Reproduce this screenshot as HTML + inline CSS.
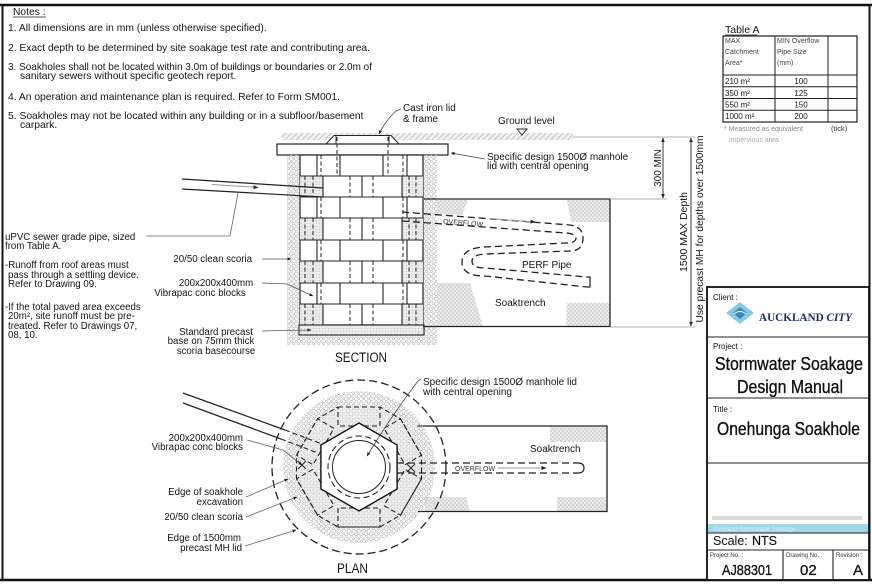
<!DOCTYPE html>
<html><head><meta charset="utf-8">
<style>
html,body{margin:0;padding:0;background:#fff;}
svg{display:block;}
</style></head><body>
<svg width="872" height="587" viewBox="0 0 872 587" xmlns="http://www.w3.org/2000/svg">
<defs>
 <pattern id="sc" width="5" height="5" patternUnits="userSpaceOnUse">
   <circle cx="1.25" cy="1.25" r="1.1" fill="none" stroke="#b3b3b3" stroke-width="0.6"/>
   <circle cx="3.75" cy="3.75" r="1.1" fill="none" stroke="#b3b3b3" stroke-width="0.6"/>
 </pattern>
 <pattern id="gd" width="3" height="3" patternUnits="userSpaceOnUse">
   <rect width="3" height="3" fill="#ececec"/>
   <circle cx="1.5" cy="1.5" r="0.6" fill="#c6c6c6"/>
 </pattern>
 <pattern id="gv" width="4" height="4" patternUnits="userSpaceOnUse">
   <rect width="4" height="4" fill="#ebebeb"/>
   <circle cx="1" cy="1" r="0.9" fill="none" stroke="#c6c6c6" stroke-width="0.5"/>
   <circle cx="3" cy="3" r="0.9" fill="none" stroke="#c6c6c6" stroke-width="0.5"/>
 </pattern>
 <pattern id="ht" width="4" height="4" patternUnits="userSpaceOnUse" patternTransform="rotate(45)">
   <rect width="4" height="4" fill="#f0f0f0"/>
   <line x1="0" y1="0" x2="0" y2="4" stroke="#aaa" stroke-width="1.2"/>
 </pattern>
 <marker id="ah" viewBox="0 0 10 10" refX="9" refY="5" markerWidth="5" markerHeight="5" orient="auto-start-reverse">
   <path d="M0,1 L10,5 L0,9z" fill="#222"/>
 </marker>
</defs>

<g font-family="Liberation Sans, Arial, sans-serif">
<rect x="0" y="0" width="872" height="587" fill="#fff"/>

<!-- frame -->
<line x1="0" y1="5" x2="872" y2="5" stroke="#111" stroke-width="2.5"/>
<line x1="2.5" y1="4" x2="2.5" y2="581" stroke="#111" stroke-width="2"/>
<line x1="0" y1="580" x2="872" y2="580" stroke="#111" stroke-width="2.5"/>
<line x1="869.5" y1="4" x2="869.5" y2="581" stroke="#111" stroke-width="2"/>

<!-- Notes -->
<g font-size="10.3" fill="#151515">
<text x="13" y="15">Notes :</text>
<text x="8" y="31">1. All dimensions are in mm (unless otherwise specified).</text>
<text x="8" y="51" textLength="362" lengthAdjust="spacingAndGlyphs">2. Exact depth to be determined by site soakage test rate and contributing area.</text>
<text x="8" y="70" textLength="364" lengthAdjust="spacingAndGlyphs">3. Soakholes shall not be located within 3.0m of buildings or boundaries or 2.0m of</text>
<text x="20" y="79">sanitary sewers without specific geotech report.</text>
<text x="8" y="100">4. An operation and maintenance plan is required. Refer to Form SM001.</text>
<text x="8" y="119">5. Soakholes may not be located within any building or in a subfloor/basement</text>
<text x="20" y="128">carpark.</text>
</g>
<line x1="13" y1="17" x2="46" y2="17" stroke="#222" stroke-width="0.8"/>

<!-- Table A -->
<text x="725" y="33" font-size="10.5" fill="#151515">Table A</text>
<line x1="725" y1="35" x2="757" y2="35" stroke="#222" stroke-width="0.8"/>
<rect x="723" y="36" width="134" height="86" fill="none" stroke="#222" stroke-width="1.2"/>
<path d="M775,36V122M828,36V122M723,75H857M723,86.75H857M723,98.5H857M723,110.25H857" stroke="#222" stroke-width="1" fill="none"/>
<g font-size="7" fill="#444">
<text x="725" y="43">MAX</text><text x="725" y="54">Catchment</text><text x="725" y="65">Area*</text>
<text x="777" y="43">MIN Overflow</text><text x="777" y="54">Pipe Size</text><text x="777" y="65">(mm)</text>
</g>
<g font-size="8" fill="#151515">
<text x="725" y="84">210 m²</text><text x="725" y="96">350 m²</text><text x="725" y="107.5">550 m²</text><text x="725" y="119">1000 m²</text>
<text x="801" y="84" text-anchor="middle">100</text><text x="801" y="96" text-anchor="middle">125</text><text x="801" y="107.5" text-anchor="middle">150</text><text x="801" y="119" text-anchor="middle">200</text>
</g>
<text x="724" y="131" font-size="7" fill="#888">* Measured as equivalent</text>
<text x="831" y="131" font-size="7.5" fill="#333">(tick)</text>
<text x="729" y="142" font-size="7" fill="#aaa">impervious area</text>

<!-- SECTION: ground -->
<rect x="282" y="133" width="291" height="7" fill="url(#ht)"/>
<line x1="573" y1="137" x2="695" y2="137" stroke="#999" stroke-width="0.8"/>
<text x="498" y="124" font-size="10" fill="#151515">Ground level</text>
<path d="M517,129 L527,129 L522,135z" fill="none" stroke="#222" stroke-width="0.9"/>

<!-- cast iron frame & lid -->
<path d="M326,144 L334,135.5 L391,135.5 L399,144z" fill="#fff" stroke="#222" stroke-width="1"/>
<path d="M336,136V144M389,136V144" stroke="#222" stroke-width="0.9"/>
<rect x="277" y="144" width="171" height="11" fill="#fff" stroke="#222" stroke-width="1.2"/>

<!-- scoria & wall -->
<rect x="287" y="155" width="150" height="190" fill="url(#sc)"/>
<rect x="300" y="155" width="123" height="170" fill="#fff" stroke="#222" stroke-width="1.2"/>
<g fill="url(#gd)">
<rect x="300" y="176" width="23" height="21"/><rect x="402" y="176" width="21" height="21"/>
<rect x="300" y="218" width="23" height="22"/><rect x="402" y="218" width="21" height="22"/>
<rect x="300" y="261" width="23" height="22"/><rect x="402" y="261" width="21" height="22"/>
<rect x="300" y="304" width="23" height="21"/><rect x="402" y="304" width="21" height="21"/>
</g>
<path d="M300,176H423M300,197H423M300,218H423M300,240H423M300,261H423M300,283H423M300,304H423
M317,155V176M340,155V176M383,155V176M407,155V176
M317,197V218M340,197V218M383,197V218M407,197V218
M317,240V261M340,240V261M383,240V261M407,240V261
M317,283V304M340,283V304M383,283V304M407,283V304
M323,176V197M362,176V197M402,176V197
M323,218V240M362,218V240M402,218V240
M323,261V283M362,261V283M402,261V283
M323,304V325M362,304V325M402,304V325" stroke="#222" stroke-width="1.1" fill="none"/>
<path d="M321,155V176M403,155V176M321,197V218M403,197V218M321,240V261M403,240V261M321,283V304M403,283V304
M305,176V197M313,176V197M350,176V197M373,176V197M409,176V197M416,176V197
M305,218V240M313,218V240M350,218V240M373,218V240M409,218V240M416,218V240
M305,261V283M313,261V283M350,261V283M373,261V283M409,261V283M416,261V283
M305,304V325M313,304V325M350,304V325M373,304V325M409,304V325M416,304V325
M337,137V176M388,137V176" stroke="#222" stroke-width="1" stroke-dasharray="4,2.5" fill="none"/>
<rect x="299" y="325" width="125" height="10" fill="url(#gd)" stroke="#222" stroke-width="1.1"/>

<!-- section soaktrench -->
<g fill="url(#gv)">
<path d="M437,200 L468,200 L462,215 L437,214z"/>
<path d="M437,283 L470,283 L483,326 L437,326z"/>
<path d="M567,200 L610,200 L610,222 L571,222z"/>
<path d="M567,303 L610,303 L610,326 L566,326z"/>
</g>
<path d="M424,199 L610,199 L610,326.5 L423,326.5" fill="none" stroke="#222" stroke-width="1.3"/>
<line x1="610" y1="199" x2="667" y2="199" stroke="#999" stroke-width="0.8"/>
<line x1="610" y1="327" x2="695" y2="327" stroke="#999" stroke-width="0.8"/>

<!-- inlet pipe section -->
<path d="M182,179 L323,188 M182,189 L323,197" stroke="#222" stroke-width="1.2" fill="none"/>
<line x1="212" y1="184.5" x2="258" y2="187.5" stroke="#999" stroke-width="1" marker-end="url(#ah)"/>

<!-- perf pipe -->
<g fill="none" stroke="#222" stroke-width="1.3" stroke-dasharray="7,4">
<path d="M402,212 L570,225 Q583,227 583,238 Q583,251 570,251 L485,254 Q472,255 472,261 Q472,268 485,268 L587,277"/>
<path d="M402,221 L566,233 Q576,234 576,238 Q576,243 566,243 L485,247 Q462,248 462,262 Q462,276 485,276 L587,287"/>
</g>
<path d="M587,277 L590,277 L590,287 L587,287" fill="none" stroke="#222" stroke-width="1.2"/>
<text x="443" y="223.5" font-size="7" transform="rotate(4.5 443 223.5)" fill="#333">OVERFLOW</text>
<line x1="490" y1="218.5" x2="535" y2="222" stroke="#999" stroke-width="1" marker-end="url(#ah)"/>
<text x="522" y="268" font-size="10" fill="#151515">PERF Pipe</text>
<text x="495" y="306" font-size="10" fill="#151515">Soaktrench</text>

<!-- section labels -->
<g fill="#151515">
<text x="403" y="111" font-size="10">Cast iron lid</text>
<text x="403" y="122" font-size="10">&amp; frame</text>
<text x="487" y="160" font-size="10">Specific design 1500Ø manhole</text>
<text x="487" y="169" font-size="10">lid with central opening</text>
</g>
<path d="M401,109 L396,111 Q386,120 379,134" fill="none" stroke="#444" stroke-width="0.8" marker-end="url(#ah)"/>
<path d="M485,159 L451,153" fill="none" stroke="#444" stroke-width="0.8" marker-end="url(#ah)"/>

<g font-size="9.7" fill="#151515">
<text x="5" y="240">uPVC sewer grade pipe, sized</text>
<text x="5" y="249">from Table A.</text>
<text x="5" y="268">-Runoff from roof areas must</text>
<text x="8" y="278">pass through a settling device.</text>
<text x="8" y="287">Refer to Drawing 09.</text>
<text x="5" y="310">-If the total paved area exceeds</text>
<text x="8" y="319">20m², site runoff must be pre-</text>
<text x="8" y="329">treated. Refer to Drawings 07,</text>
<text x="8" y="338">08, 10.</text>
<text x="252" y="262" text-anchor="end">20/50 clean scoria</text>
<text x="216" y="286" text-anchor="middle">200x200x400mm</text>
<text x="200" y="296" text-anchor="middle">Vibrapac conc blocks</text>
<text x="216" y="335" text-anchor="middle">Standard precast</text>
<text x="211" y="344" text-anchor="middle">base on 75mm thick</text>
<text x="216" y="354" text-anchor="middle">scoria basecourse</text>
</g>
<path d="M146,236 L230,236 L238,193" fill="none" stroke="#666" stroke-width="0.8"/>
<path d="M262,259 L291,259" fill="none" stroke="#555" stroke-width="0.8" marker-end="url(#ah)"/>
<path d="M262,283 L287,284 L313,296" fill="none" stroke="#555" stroke-width="0.8" marker-end="url(#ah)"/>
<path d="M262,331 L311,330" fill="none" stroke="#555" stroke-width="0.8" marker-end="url(#ah)"/>
<text x="335" y="362" font-size="13.5" fill="#151515" textLength="52" lengthAdjust="spacingAndGlyphs">SECTION</text>

<!-- dimensions -->
<line x1="663" y1="138" x2="663" y2="198" stroke="#222" stroke-width="0.9" marker-start="url(#ah)" marker-end="url(#ah)"/>
<line x1="691" y1="138" x2="691" y2="326" stroke="#222" stroke-width="0.9" marker-start="url(#ah)" marker-end="url(#ah)"/>
<g fill="#151515">
<text transform="translate(661,168) rotate(-90)" text-anchor="middle" font-size="10">300 MIN</text>
<text transform="translate(687,232) rotate(-90)" text-anchor="middle" font-size="10.5">1500 MAX Depth</text>
<text transform="translate(703,229) rotate(-90)" text-anchor="middle" font-size="10" textLength="187" lengthAdjust="spacingAndGlyphs">Use precast MH for depths over 1500mm</text>
</g>

<!-- PLAN -->
<g fill="url(#gv)">
<rect x="550" y="427" width="56" height="15"/>
<path d="M425,497 L466,497 L470,511 L425,511z"/>
<rect x="557" y="497" width="49" height="14"/>
</g>
<path d="M417,426 L607,426 L607,511.5 L418,511.5" fill="none" stroke="#222" stroke-width="1.3"/>

<circle cx="359" cy="467" r="76" fill="url(#sc)"/>
<circle cx="359" cy="467" r="62" fill="url(#gd)" opacity="0.6"/>
<g transform="translate(359,467)" fill="none" stroke="#222" stroke-width="1.1" stroke-dasharray="5,3">
<rect x="-21" y="-60" width="42" height="19"/>
<rect x="-21" y="-60" width="42" height="19" transform="rotate(60)"/>
<rect x="-21" y="-60" width="42" height="19" transform="rotate(120)"/>
<rect x="-21" y="-60" width="42" height="19" transform="rotate(180)"/>
<rect x="-21" y="-60" width="42" height="19" transform="rotate(240)"/>
<rect x="-21" y="-60" width="42" height="19" transform="rotate(300)"/>
<polygon points="-21,-60 21,-60 41.5,-48.2 62.5,-11.8 62.5,11.8 41.5,48.2 21,60 -21,60 -41.5,48.2 -62.5,11.8 -62.5,-11.8 -41.5,-48.2"/>
</g>
<polygon points="359,423 397.1,445 397.1,489 359,511 320.9,489 320.9,445" fill="#fff" stroke="#111" stroke-width="1.4"/>
<circle cx="359" cy="467" r="31" fill="none" stroke="#222" stroke-width="1.1" stroke-dasharray="6,3.5"/>
<circle cx="359" cy="467" r="26.5" fill="none" stroke="#222" stroke-width="1"/>
<path d="M298,461 L306,469 M306,461 L298,469 M407,464 L415,472 M415,464 L407,472" stroke="#222" stroke-width="1"/>
<circle cx="359" cy="467" r="87" fill="none" stroke="#222" stroke-width="1.3" stroke-dasharray="8,4"/>

<!-- plan inlet pipe -->
<path d="M183,393 L285,430 M183,403 L281,439" stroke="#222" stroke-width="1.2" fill="none"/>
<path d="M285,430 L322,444 M281,439 L318,453" stroke="#222" stroke-width="1.1" stroke-dasharray="5,3" fill="none"/>

<!-- plan overflow -->
<path d="M397,463 L578,463 M397,473 L578,473" stroke="#222" stroke-width="1.3" stroke-dasharray="7,4" fill="none"/>
<path d="M578,463 Q584,463 584,468 Q584,473 578,473" fill="none" stroke="#222" stroke-width="1.2"/>
<text x="455" y="471" font-size="7" fill="#333">OVERFLOW</text>
<line x1="498" y1="468" x2="546" y2="468" stroke="#999" stroke-width="1" marker-end="url(#ah)"/>
<text x="530" y="452" font-size="10" fill="#151515">Soaktrench</text>

<g fill="#151515">
<text x="423" y="385" font-size="10">Specific design 1500Ø manhole lid</text>
<text x="423" y="395" font-size="10">with central opening</text>
</g>
<path d="M421,379 L418,381 Q392,415 367,456" fill="none" stroke="#444" stroke-width="0.8" marker-end="url(#ah)"/>

<g font-size="9.7" text-anchor="end" fill="#151515">
<text x="243" y="441">200x200x400mm</text>
<text x="243" y="450">Vibrapac conc blocks</text>
<text x="243" y="495">Edge of soakhole</text>
<text x="243" y="505">excavation</text>
<text x="243" y="520">20/50 clean scoria</text>
<text x="241" y="541">Edge of 1500mm</text>
<text x="242" y="551">precast MH lid</text>
</g>
<g fill="none" stroke="#666" stroke-width="0.8">
<path d="M247,440 L283,450 L302,465" marker-end="url(#ah)"/>
<path d="M246,497 L288,479" marker-end="url(#ah)"/>
<path d="M246,517 L297,497" marker-end="url(#ah)"/>
<path d="M245,546 L296,530" marker-end="url(#ah)"/>
</g>
<text x="337" y="573" font-size="13.5" fill="#151515" textLength="31" lengthAdjust="spacingAndGlyphs">PLAN</text>

<!-- Title block -->
<rect x="707" y="287" width="162" height="293" fill="#fff" stroke="#111" stroke-width="1.8"/>
<path d="M707,337H869M707,398H869M707,463H869M707,533H869M707,550H869M783,550V580M833,550V580" stroke="#222" stroke-width="1.1"/>
<text x="713" y="300" font-size="8" fill="#151515">Client :</text>
<polygon points="726,313 740,302 754,313 740,324" fill="#86cbe6"/>
<polygon points="733,313 740,307 747,313 740,319" fill="#3d86bd"/>
<path d="M734,314 Q740,309 746,314" stroke="#fff" stroke-width="1" fill="none"/>
<text x="759" y="321" style="font-family:'Liberation Serif',serif;font-weight:bold" font-size="11.5" fill="#1d2f6b" textLength="93" lengthAdjust="spacingAndGlyphs">AUCKLAND <tspan style="font-style:italic">CITY</tspan></text>
<g fill="#111">
<text x="713" y="349" font-size="8">Project :</text>
<text x="715" y="370" font-size="18.5" stroke="#111" stroke-width="0.35" textLength="148" lengthAdjust="spacingAndGlyphs">Stormwater Soakage</text>
<text x="737" y="393" font-size="18.5" stroke="#111" stroke-width="0.35" textLength="106" lengthAdjust="spacingAndGlyphs">Design Manual</text>
<text x="713" y="412" font-size="8">Title :</text>
<text x="717" y="435" font-size="18.5" stroke="#111" stroke-width="0.35" textLength="143" lengthAdjust="spacingAndGlyphs">Onehunga Soakhole</text>
</g>
<rect x="712" y="516" width="150" height="4" fill="#dcdcdc"/>
<rect x="708" y="524" width="160" height="8.5" fill="#9fd7ea"/>
<text x="713" y="531" font-size="6" fill="#d9f1f8">Auckland  Stormwater Soakage</text>
<g fill="#111">
<text x="713" y="545" font-size="12.5">Scale:</text>
<text x="752" y="545" font-size="12.5" stroke="#111" stroke-width="0.2">NTS</text>
<text x="710" y="557" font-size="6" fill="#333">Project No. :</text>
<text x="786" y="557" font-size="6" fill="#333">Drawing No. :</text>
<text x="836" y="557" font-size="6" fill="#333">Revision :</text>
<text x="722" y="575" font-size="15" stroke="#111" stroke-width="0.3" textLength="50" lengthAdjust="spacingAndGlyphs">AJ88301</text>
<text x="800" y="575" font-size="15" stroke="#111" stroke-width="0.3">02</text>
<text x="853" y="575" font-size="15" stroke="#111" stroke-width="0.3">A</text>
</g>
</g>
</svg>
</body></html>
